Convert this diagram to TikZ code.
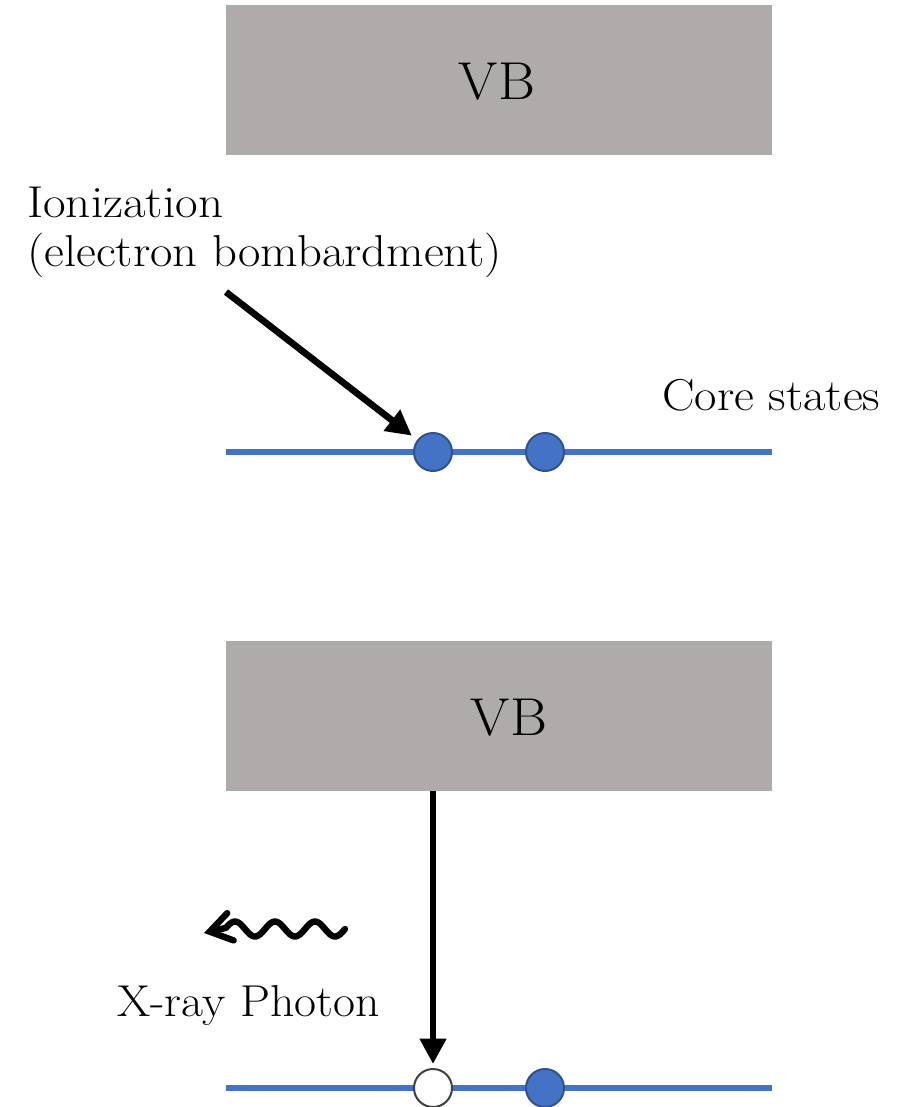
\documentclass[tikz,border=0pt]{standalone}
\usetikzlibrary{arrows.meta,calc}
\definecolor{vbgray}{HTML}{AEABAA}
\definecolor{coreblue}{HTML}{4472C4}
\definecolor{coreedge}{HTML}{2F528F}
\definecolor{holeedge}{HTML}{404040}
\newcommand\widetxt[2][1.09]{\scalebox{#1}[1]{#2}}
\begin{document}
\begin{tikzpicture}[x=0.75pt,y=-0.75pt]
\tikzset{
  vbbox/.style={fill=vbgray,draw=none,minimum width=409.5pt,minimum height=112.5pt,inner sep=0pt},
  vbtext/.style={font=\fontsize{40}{48}\selectfont,inner sep=0pt},
  lbl/.style={font=\fontsize{33.5}{40}\selectfont,inner sep=0pt,anchor=base west},
  coreline/.style={draw=coreblue,line width=4.5pt},
  electron/.style={circle,fill=coreblue,draw=coreedge,line width=1.5pt,minimum size=28.5pt,inner sep=0pt},
  hole/.style={circle,fill=white,draw=holeedge,line width=1.5pt,minimum size=28.5pt,inner sep=0pt},
  bigarrow/.style={draw=black,line width=5pt,-{Triangle[length=19pt,width=19pt]}},
  wavearrow/.style={draw=black,line width=4.8pt,line cap=round,line join=round,-{Straight Barb[length=16pt,width=21pt,line cap=round]}}
}
\useasboundingbox (0,0) rectangle (904,1107);
% top panel
\node[vbbox] (vb1) at (499,80) {};
\node[vbtext] (vbl1) at (497,82) {\widetxt[1.06]{VB}};
\node[lbl] (ion1) at (27,217) {\widetxt[1.1]{Ionization}};
\node[lbl] (ion2) at (27,266) {\widetxt{(electron bombardment)}};
\node[lbl] (cs) at (662,410) {\widetxt{Core states}};
\coordinate (cl1a) at (226,452);
\coordinate (cl1b) at (772,452);
\draw[coreline] (cl1a) -- (cl1b);
\node[electron] (c1a) at (433,452) {};
\node[electron] (c1b) at (545,452) {};
\coordinate (a1s) at (226,292);
\draw[bigarrow,shorten >=5pt] (a1s) -- (c1a);
% bottom panel
\node[vbbox] (vb2) at (499,716) {};
\node[vbtext] (vbl2) at (509,718) {\widetxt[1.06]{VB}};
\coordinate (cl2a) at (226,1088);
\coordinate (cl2b) at (772,1088);
\draw[coreline] (cl2a) -- (cl2b);
\node[hole] (c2a) at (433,1088) {};
\node[electron] (c2b) at (545,1088) {};
\draw[bigarrow,shorten >=3pt] (vb2.south -| c2a) -- (c2a);
\coordinate (wtip) at (204,933);
\draw[wavearrow] plot[domain=345:226,samples=80,smooth] (\x,{929-7.5*cos(9*(\x-315))}) -- (wtip);
\node[lbl] (xr) at (117,1016) {\widetxt[1.07]{X-ray Photon}};
\end{tikzpicture}
\end{document}
